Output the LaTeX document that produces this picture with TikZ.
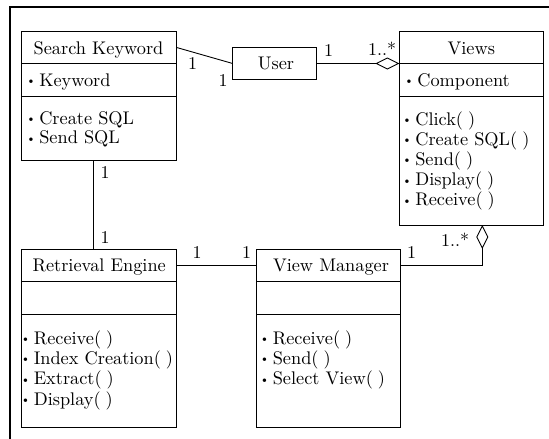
\documentclass[tikz,border=0pt]{standalone}
\usepackage{fontspec}
\setmainfont{lmroman10-regular.otf}
\usetikzlibrary{arrows.meta}
\newcommand\bul{\raisebox{1.5pt}{\fontsize{12}{12}\selectfont\textbullet}\kern3.5pt}
\newcommand\pr{(\hspace{5pt})}
\begin{document}
\begin{tikzpicture}[x=1pt,y=-1pt, line width=0.9pt,
  cls/.style={draw, anchor=north west, inner sep=0, outer sep=0},
  txt/.style={font=\fontsize{18.3}{20}\selectfont, inner sep=0},
  item/.style={txt, anchor=base west},
  mult/.style={font=\fontsize{18}{20}\selectfont, inner sep=0},
  agg/.style={-{Diamond[open, length=24pt, width=12pt, line width=0.9pt]}}]
\useasboundingbox (0,0) rectangle (549,439);
\draw[line width=1.1pt] (10,445) -- (10,7) -- (555,7);

% Search Keyword
\node[cls, minimum width=155pt, minimum height=129pt] (sk) at (21.7,31.7) {};
\node[cls, minimum width=155pt, minimum height=31.6pt] (skh) at (21.7,31.7) {};
\draw (sk.west |- 0,96.7) -- (sk.east |- 0,96.7);
\node[txt, anchor=base] (skt) at (98.5,54) {Search Keyword};
\node[item] (ska) at (26,86) {\bul Keyword};
\foreach \t [count=\i] in {{Create SQL},{Send SQL}}
  \node[item] (skm\i) at (26,{124+(\i-1)*19.5}) {\bul \t};

% User
\node[cls, minimum width=84pt, minimum height=31.6pt] (user) at (232.7,47.7) {};
\node[txt, anchor=base] (usert) at (276,69) {User};

% Views
\node[cls, minimum width=144pt, minimum height=193.3pt] (views) at (399.3,31.7) {};
\node[cls, minimum width=144pt, minimum height=31.6pt] (viewsh) at (399.3,31.7) {};
\draw (views.west |- 0,96.7) -- (views.east |- 0,96.7);
\node[txt, anchor=base] (viewst) at (471.3,54) {Views};
\node[item] (viewsa) at (404,86) {\bul Component};
\foreach \t [count=\i] in {{Click\pr},{Create SQL\pr},{Send\pr},{Display\pr},{Receive\pr}}
  \node[item] (viewsm\i) at (402,{125+(\i-1)*20.2}) {\bul \t};

% Retrieval Engine
\node[cls, minimum width=155pt, minimum height=178pt] (re) at (21.7,249.3) {};
\node[cls, minimum width=155pt, minimum height=32.4pt] (reh) at (21.7,249.3) {};
\draw (re.west |- 0,314.3) -- (re.east |- 0,314.3);
\node[txt, anchor=base] (ret) at (99.2,271.7) {Retrieval Engine};
\foreach \t [count=\i] in {{Receive\pr},{Index Creation\pr},{Extract\pr},{Display\pr}}
  \node[item] (rem\i) at (20.5,{344+(\i-1)*20.4}) {\bul \t};

% View Manager
\node[cls, minimum width=143.3pt, minimum height=178pt] (vm) at (256.7,249.3) {};
\node[cls, minimum width=143.3pt, minimum height=32.4pt] (vmh) at (256.7,249.3) {};
\draw (vm.west |- 0,314.3) -- (vm.east |- 0,314.3);
\node[txt, anchor=base] (vmt) at (331,271.7) {View Manager};
\foreach \t [count=\i] in {{Receive\pr},{Send\pr},{Select View\pr}}
  \node[item] (vmm\i) at (259.5,{344+(\i-1)*20.4}) {\bul \t};

% connectors
\draw (skh.east) -- (user.west);
\draw[agg] (user.east) -- (user.east -| views.west);
\draw ([xshift=-5.5pt]sk.south) -- ([xshift=-5.5pt]reh.north);
\draw (reh.east) -- (vmh.west);
\draw[agg] (vmh.east) -| ([xshift=11pt]views.south);

% multiplicities
\node[mult] (m1) at (192.5,64) {1};
\node[mult] (m2) at (223,81) {1};
\node[mult] (m3) at (328.5,51) {1};
\node[mult] (m4) at (382,49) {1..*};
\node[mult] (m5) at (105,173) {1};
\node[mult] (m6) at (105,238) {1};
\node[mult] (m7) at (197,253) {1};
\node[mult] (m8) at (246.5,253) {1};
\node[mult] (m9) at (411.5,253) {1};
\node[mult] (m10) at (455,240) {1..*};
\end{tikzpicture}
\end{document}
